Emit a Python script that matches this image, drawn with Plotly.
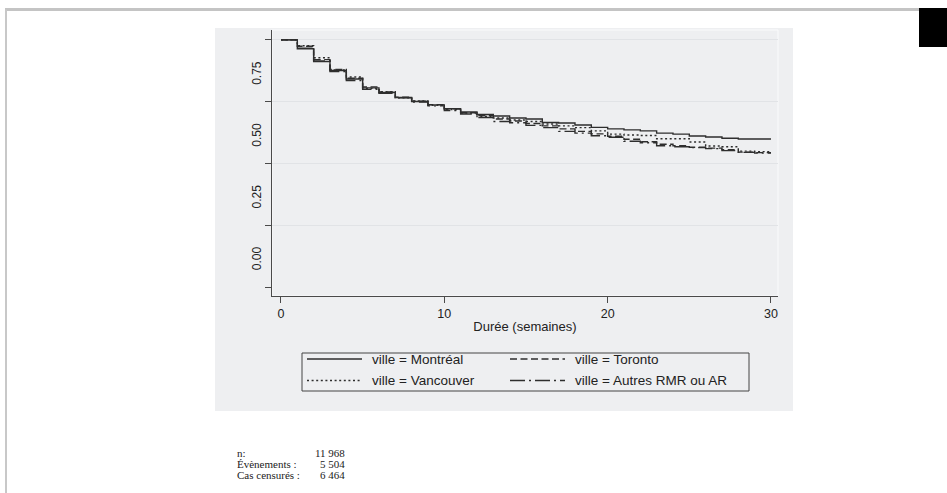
import plotly.graph_objects as go

# ---------------- data ----------------
weeks = list(range(0, 31))
# survival value held during [week, week+1)
montreal = [1.000, 0.964, 0.912, 0.876, 0.842, 0.806, 0.787, 0.767, 0.751, 0.737,
            0.722, 0.708, 0.698, 0.692, 0.684, 0.680, 0.666, 0.664, 0.656, 0.646,
            0.640, 0.636, 0.632, 0.623, 0.619, 0.611, 0.607, 0.602, 0.599, 0.599]
toronto = [1.000, 0.974, 0.920, 0.880, 0.845, 0.810, 0.789, 0.768, 0.752, 0.738,
           0.720, 0.705, 0.694, 0.680, 0.672, 0.662, 0.652, 0.640, 0.630, 0.620,
           0.610, 0.598, 0.588, 0.578, 0.572, 0.566, 0.562, 0.556, 0.546, 0.544]
vancouver = [1.000, 0.976, 0.928, 0.878, 0.850, 0.804, 0.790, 0.766, 0.753, 0.735,
             0.718, 0.704, 0.690, 0.684, 0.676, 0.670, 0.660, 0.652, 0.645, 0.632,
             0.619, 0.615, 0.613, 0.600, 0.600, 0.587, 0.571, 0.568, 0.550, 0.548]
autres = [1.000, 0.966, 0.915, 0.872, 0.836, 0.800, 0.784, 0.766, 0.749, 0.733,
          0.714, 0.700, 0.686, 0.670, 0.665, 0.654, 0.645, 0.630, 0.623, 0.612,
          0.606, 0.590, 0.584, 0.572, 0.568, 0.564, 0.560, 0.552, 0.545, 0.542]

series_names = ["ville = Montréal", "ville = Toronto",
                "ville = Vancouver", "ville = Autres RMR ou AR"]
series_values = [montreal, toronto, vancouver, autres]

x_tick_vals = [0, 10, 20, 30]
y_grid_vals = [0.25, 0.5, 0.75, 1.0]
y_mark_vals = [0, 0.25, 0.5, 0.75, 1.0]
y_label_vals = [0, 0.25, 0.5, 0.75]
y_label_text = ["0.00", "0.25", "0.50", "0.75"]
x_title = "Durée (semaines)"

summary_labels = ["n:", "Évènements :", "Cas censurés :"]
summary_values = ["11 968", "5 504", "6 464"]

# ---------------- layout helpers ----------------
W, H = 947, 493
L, R, T, B = 272, 778, 30, 296


def px(x):
    return (x - L) / (R - L)


def py(y):
    return (B - y) / (B - T)


PANEL = "#eeeff1"
AX = "#4a4a4a"
LINE = "#2e2e2e"
TXT = "#222"
label_offset = 0.108
font_sans = "Liberation Sans, Arial, sans-serif"
font_serif = "Liberation Serif, Times New Roman, serif"

dashes = ["solid", "7px,3.5px", "2px,2.6px", "15px,4px,2px,4px"]

fig = go.Figure()
for name, vals, dash in zip(series_names, series_values, dashes):
    fig.add_trace(go.Scatter(
        x=weeks, y=vals + [vals[-1]], mode="lines", name=name,
        line=dict(shape="hv", color=LINE, width=1.4, dash=dash),
        hoverinfo="skip", showlegend=False))

# helper traces for extra overlay axes (tick marks / shifted tick labels)
fig.add_trace(go.Scatter(x=[None], y=[None], yaxis="y2", showlegend=False, hoverinfo="skip"))
fig.add_trace(go.Scatter(x=[None], y=[None], yaxis="y3", showlegend=False, hoverinfo="skip"))

yr = [-0.036, 1.04]

fig.update_layout(
    width=W, height=H, autosize=False,
    margin=dict(l=L, r=W - R, t=T, b=H - B, pad=0),
    paper_bgcolor="white", plot_bgcolor=PANEL,
    font=dict(family=font_sans, color=TXT),
    showlegend=False,
    xaxis=dict(range=[-0.55, 30.43], tickvals=x_tick_vals, ticks="outside", ticklen=6,
               tickcolor=AX, showline=True, linecolor=AX, linewidth=1, showgrid=False,
               zeroline=False, tickfont=dict(size=12.5, color=TXT),
               title=dict(text=x_title, font=dict(size=13, color=TXT), standoff=1)),
    yaxis=dict(range=yr, tickvals=y_grid_vals, showticklabels=False, ticks="",
               showgrid=True, gridcolor="#e1e3e6", gridwidth=1, zeroline=False,
               showline=True, linecolor=AX, linewidth=1),
    yaxis2=dict(range=yr, overlaying="y", side="left", tickvals=y_mark_vals,
                showticklabels=False, ticks="outside", ticklen=6, tickcolor=AX,
                showgrid=False, zeroline=False, showline=False),
    yaxis3=dict(range=yr, overlaying="y", side="left",
                tickvals=[v + label_offset for v in y_label_vals], ticktext=y_label_text,
                ticks="outside", ticklen=5, tickcolor="rgba(0,0,0,0)", tickangle=-90,
                tickfont=dict(size=12, color=TXT),
                showgrid=False, zeroline=False, showline=False),
)

shapes = [
    # gray panel behind chart
    dict(type="rect", xref="paper", yref="paper", x0=px(215), x1=px(793),
         y0=py(411), y1=py(28), fillcolor=PANEL, line=dict(width=0), layer="below"),
    # faint light frame of plot region
    dict(type="rect", xref="paper", yref="paper", x0=0, x1=1, y0=0, y1=1,
         line=dict(color="#fafbfc", width=1), layer="below"),
    # page decoration: top rule, left rule, black tab
    dict(type="line", xref="paper", yref="paper", x0=px(5), x1=px(919),
         y0=py(9.5), y1=py(9.5), line=dict(color="#c4c4c4", width=3)),
    dict(type="line", xref="paper", yref="paper", x0=px(6), x1=px(6),
         y0=py(9.5), y1=py(493), line=dict(color="#c8c8c8", width=2)),
    dict(type="rect", xref="paper", yref="paper", x0=px(919), x1=px(950),
         y0=py(47), y1=py(8), fillcolor="black", line=dict(width=0)),
    # legend box
    dict(type="rect", xref="paper", yref="paper", x0=px(302), x1=px(749),
         y0=py(391), y1=py(353), line=dict(color="#444", width=1)),
]

annotations = []
# legend entries (2 x 2 grid)
leg_cols = [307, 510]
leg_rows = [359, 380.5]
for i, (name, dash) in enumerate(zip(series_names, dashes)):
    cx = leg_cols[i % 2]
    ry = leg_rows[i // 2]
    shapes.append(dict(type="line", xref="paper", yref="paper", x0=px(cx), x1=px(cx + 55),
                       y0=py(ry), y1=py(ry), line=dict(color=LINE, width=1.3, dash=dash)))
    annotations.append(dict(xref="paper", yref="paper", x=px(cx + 63), y=py(ry), text=name,
                            showarrow=False, xanchor="left", yanchor="middle",
                            font=dict(family=font_sans, size=13.5, color=TXT)))

rows_y = [452.5, 463.5, 474.5]
for lab, val, yy in zip(summary_labels, summary_values, rows_y):
    annotations.append(dict(xref="paper", yref="paper", x=px(235), y=py(yy), text=lab,
                            showarrow=False, xanchor="left", yanchor="middle",
                            font=dict(family=font_serif, size=11, color=TXT)))
    annotations.append(dict(xref="paper", yref="paper", x=px(347), y=py(yy), text=val,
                            showarrow=False, xanchor="right", yanchor="middle",
                            font=dict(family=font_serif, size=11, color=TXT)))

fig.update_layout(shapes=shapes, annotations=annotations)

fig.write_html("out.html", config={"displayModeBar": False},
               post_script="document.body.style.margin='0';")
